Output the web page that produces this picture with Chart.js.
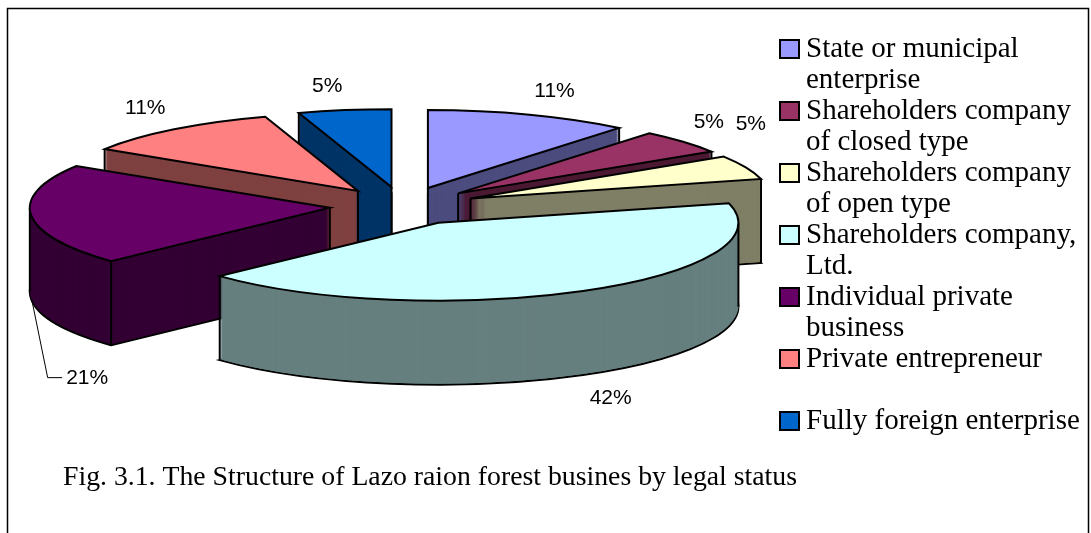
<!DOCTYPE html>
<html>
<head>
<meta charset="utf-8">
<script src="https://cdn.jsdelivr.net/npm/chart.js@4.4.0/dist/chart.umd.min.js"></script>
<style>
  html, body { margin: 0; padding: 0; background: #fff; }
</style>
</head>
<body>
<canvas id="pie" width="1091" height="533"></canvas>
<script>
const categories = [
    'State or municipal enterprise',
    'Shareholders company of closed type',
    'Shareholders company of open type',
    'Shareholders company, Ltd.',
    'Individual private business',
    'Private entrepreneur',
    'Fully foreign enterprise'
];
const shares = [11, 5, 5, 42, 21, 11, 5];
// legend text as it wraps in the figure
const legendLines = [
    ['State or municipal', 'enterprise'],
    ['Shareholders company', 'of closed type'],
    ['Shareholders company', 'of open type'],
    ['Shareholders company,', 'Ltd.'],
    ['Individual private', 'business'],
    ['Private entrepreneur'],
    ['Fully foreign enterprise']
];
const caption = 'Fig. 3.1. The Structure of Lazo raion forest busines by legal status';

const sliceColors = ['#9999FF', '#993366', '#FFFFCC', '#CCFFFF', '#660066', '#FF8080', '#0066CC'];

function shade(hex) {
    const n = parseInt(hex.slice(1), 16);
    const r = (n >> 16) >> 1, g = ((n >> 8) & 255) >> 1, b = (n & 255) >> 1;
    return 'rgb(' + r + ',' + g + ',' + b + ')';
}

// tilted pie geometry on screen
const PIE = { cx: 403, cy: 206, rx: 300, ry: 78, depth: 84, explode: 0.245 };
const serif = "'Liberation Serif', 'Times New Roman', serif";
const sans = "'Liberation Sans', Arial, sans-serif";

const mid = a => (a.startAngle + a.endAngle) / 2;

const pie3d = {
    id: 'pie3d',
    beforeDraw(chart) {
        const ctx = chart.ctx;
        ctx.save();
        ctx.strokeStyle = '#000';
        ctx.lineWidth = 1.5;
        ctx.strokeRect(7.5, 8.5, 1081, 600);
        ctx.restore();
    },
    beforeDatasetsDraw(chart) {
        const ctx = chart.ctx;
        const arcs = chart.getDatasetMeta(0).data;
        const R = arcs[0].outerRadius;
        const sx = PIE.rx / R, sy = PIE.ry / R;
        const order = arcs.map((a, i) => i)
            .sort((i, j) => Math.sin(mid(arcs[i])) - Math.sin(mid(arcs[j])));

        // keep outlines even under the squashed transform
        const stroke = ctx.stroke;
        ctx.stroke = function () {
            this.save();
            this.setTransform(1, 0, 0, 1, 0, 0);
            stroke.apply(this, arguments);
            this.restore();
        };

        const paint = (a, dy, fill, lw) => {
            const saved = a.options;
            const m = mid(a);
            a.options = Object.assign({}, saved, { backgroundColor: fill, borderWidth: lw });
            ctx.save();
            ctx.translate(PIE.cx, PIE.cy + dy);
            ctx.scale(sx, sy);
            ctx.translate(-a.x, -a.y);
            ctx.translate(Math.cos(m) * PIE.explode * R, Math.sin(m) * PIE.explode * R);
            a.draw(ctx);
            ctx.restore();
            a.options = saved;
        };

        // vertical edges of a wall that face the viewer
        const edges = a => {
            const m = mid(a), s0 = a.startAngle, s1 = a.endAngle;
            const ax = PIE.cx + Math.cos(m) * PIE.explode * PIE.rx;
            const ay = PIE.cy + Math.sin(m) * PIE.explode * PIE.ry;
            const startFace = Math.cos(s0) < -1e-6, endFace = Math.cos(s1) > 1e-6;
            const pts = [];
            if (startFace || endFace) pts.push([ax, ay]);
            if (startFace || Math.sin(s0) > 0) pts.push([ax + Math.cos(s0) * PIE.rx, ay + Math.sin(s0) * PIE.ry]);
            if (endFace || Math.sin(s1) > 0) pts.push([ax + Math.cos(s1) * PIE.rx, ay + Math.sin(s1) * PIE.ry]);
            [0, Math.PI, 2 * Math.PI].forEach(t => {
                if (t > s0 && t < s1) pts.push([ax + Math.cos(t) * PIE.rx, ay + Math.sin(t) * PIE.ry]);
            });
            ctx.save();
            ctx.lineWidth = 2;
            ctx.strokeStyle = '#000';
            pts.forEach(([x, y]) => {
                ctx.beginPath();
                ctx.moveTo(x, y);
                ctx.lineTo(x, y + PIE.depth);
                stroke.call(ctx);
            });
            ctx.restore();
        };

        order.forEach(i => {
            const side = shade(sliceColors[i]);
            paint(arcs[i], PIE.depth, side, 2);
            for (let d = PIE.depth - 1; d > 0; d--) paint(arcs[i], d, side, 0);
            edges(arcs[i]);
        });
        order.forEach(i => paint(arcs[i], 0, sliceColors[i], 2));

        delete ctx.stroke;
        return false;
    },
    afterDraw(chart) {
        const ctx = chart.ctx;
        const arcs = chart.getDatasetMeta(0).data;
        ctx.save();

        // percentage labels
        ctx.font = '21px ' + sans;
        ctx.fillStyle = '#000';
        ctx.strokeStyle = '#000';
        ctx.lineWidth = 1;
        arcs.forEach((a, i) => {
            const m = mid(a), c = Math.cos(m), s = Math.sin(m);
            let x = PIE.cx + (1 + PIE.explode) * c * PIE.rx;
            let y = PIE.cy + (1 + PIE.explode) * s * PIE.ry + (s > 0 ? PIE.depth : 0);
            const text = shares[i] + '%';
            if (i === 4) {
                // pushed down with a leader line
                ctx.beginPath();
                ctx.moveTo(x + 0.5, y);
                ctx.lineTo(x + 16.5, y + 78.5);
                ctx.lineTo(x + 31, y + 78.5);
                ctx.stroke();
                ctx.textAlign = 'left';
                ctx.textBaseline = 'middle';
                ctx.fillText(text, x + 35, y + 79);
                return;
            }
            if (i === 2) { x -= 23; y -= 27; }
            ctx.textAlign = c >= 0 ? 'left' : 'right';
            ctx.textBaseline = s < 0 ? 'bottom' : 'top';
            ctx.fillText(text, x + c * 14, y + s * 14);
        });

        // legend
        ctx.font = '29px ' + serif;
        ctx.textAlign = 'left';
        ctx.textBaseline = 'alphabetic';
        legendLines.forEach((lines, i) => {
            const base = 57 + 62 * i;
            ctx.fillStyle = sliceColors[i];
            ctx.fillRect(780, base - 17, 19, 18);
            ctx.lineWidth = 2;
            ctx.strokeStyle = '#000';
            ctx.strokeRect(780, base - 17, 19, 18);
            ctx.fillStyle = '#000';
            lines.forEach((t, k) => ctx.fillText(t, 806, base + 31 * k));
        });

        // caption
        ctx.font = '28px ' + serif;
        ctx.fillText(caption, 63, 485, 734);
        ctx.restore();
    }
};

new Chart(document.getElementById('pie'), {
    type: 'pie',
    data: {
        labels: categories,
        datasets: [{
            data: shares,
            backgroundColor: sliceColors,
            borderColor: '#000',
            borderWidth: 2,
            borderJoinStyle: 'miter',
            offset: 0,
            hoverOffset: 0
        }]
    },
    options: {
        responsive: false,
        animation: false,
        events: [],
        plugins: {
            legend: { display: false },
            tooltip: { enabled: false }
        }
    },
    plugins: [pie3d]
});
</script>
</body>
</html>
